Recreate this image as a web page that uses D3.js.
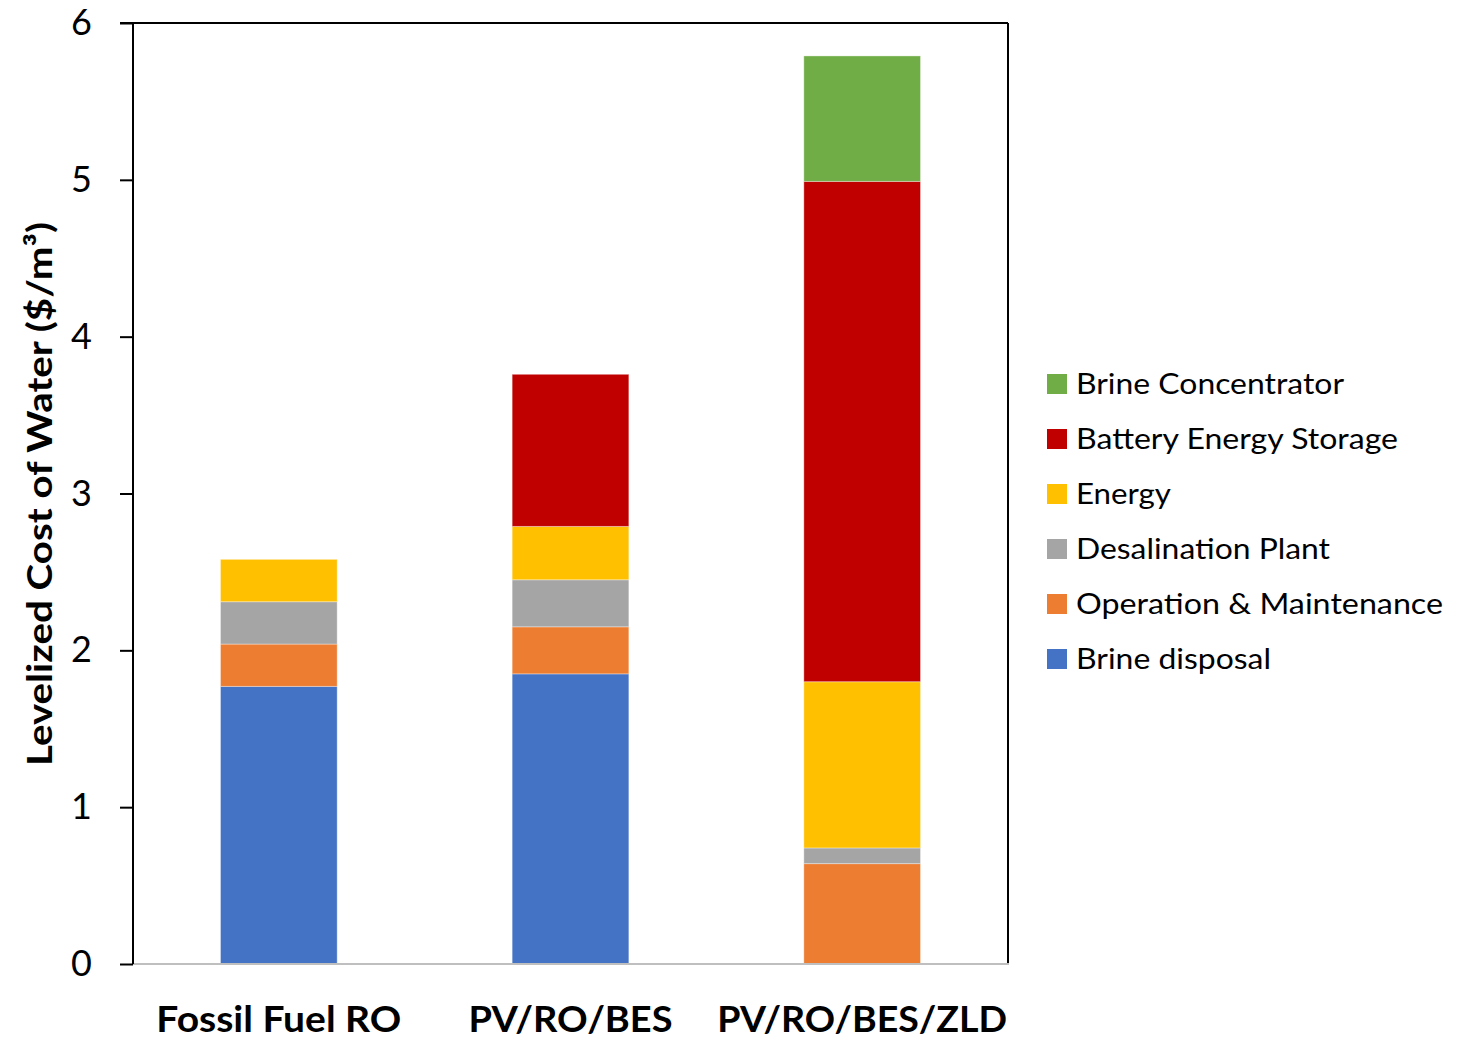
<!DOCTYPE html>
<html>
<head>
<meta charset="utf-8">
<script src="https://cdn.jsdelivr.net/npm/d3@7"></script>
<style>
  html, body { margin: 0; padding: 0; background: #fff; }
  svg { display: block; }
  text { font-family: Lato, "Noto Sans", "Liberation Sans", sans-serif; fill: #000; }
</style>
</head>
<body>
<svg id="chart" width="1457" height="1040"></svg>
<script>
// Levelized cost of water by system configuration, split into cost components
const categories = ["Fossil Fuel RO", "PV/RO/BES", "PV/RO/BES/ZLD"];
const seriesNames = ["Brine disposal", "Operation & Maintenance", "Desalination Plant", "Energy", "Battery Energy Storage", "Brine Concentrator"];
const seriesColors = ["#4472C4", "#ED7D31", "#A5A5A5", "#FFC000", "#C00000", "#70AD47"];
const brineDisposal = [1.77, 1.85, 0.00];
const operationMaintenance = [0.27, 0.30, 0.64];
const desalinationPlant = [0.27, 0.30, 0.10];
const energy = [0.27, 0.34, 1.06];
const batteryStorage = [0.00, 0.97, 3.19];
const brineConcentrator = [0.00, 0.00, 0.80];
const yTicks = [0, 1, 2, 3, 4, 5, 6];

const seriesValues = [brineDisposal, operationMaintenance, desalinationPlant, energy, batteryStorage, brineConcentrator];
const rows = categories.map((c, i) => {
  const r = { category: c };
  seriesNames.forEach((s, k) => { r[s] = seriesValues[k][i]; });
  return r;
});

const svg = d3.select("#chart");
const margin = { left: 133, top: 23, right: 449, bottom: 76 };
const W = 1457, H = 1040;
const x0 = margin.left, x1 = W - margin.right;   // 133 .. 1008
const y0 = H - margin.bottom, y1 = margin.top;   // 964 .. 23

const x = d3.scaleBand().domain(categories).range([x0, x1]).paddingInner(0.6).paddingOuter(0.3);
const y = d3.scaleLinear().domain([0, 6]).range([y0, y1]);
const color = d3.scaleOrdinal().domain(seriesNames).range(seriesColors);

const stacked = d3.stack().keys(seriesNames)(rows);

// stacked bars
const g = svg.append("g");
g.selectAll("g.series")
  .data(stacked)
  .join("g")
  .attr("class", "series")
  .attr("fill", d => color(d.key))
  .selectAll("rect")
  .data(d => d.filter(p => p[1] - p[0] > 0))
  .join("rect")
  .attr("x", d => x(d.data.category))
  .attr("width", x.bandwidth())
  .attr("y", d => y(d[1]))
  .attr("height", d => y(d[0]) - y(d[1]))
  .attr("stroke", "#ffffff")
  .attr("stroke-opacity", 0.35)
  .attr("stroke-width", 1);

// plot frame: top and right borders
svg.append("line").attr("x1", x0).attr("x2", x1).attr("y1", y1).attr("y2", y1)
  .attr("stroke", "#000").attr("stroke-width", 2);
svg.append("line").attr("x1", x1).attr("x2", x1).attr("y1", y1).attr("y2", y0)
  .attr("stroke", "#000").attr("stroke-width", 2);

// bottom category axis (gray line, no ticks)
svg.append("line").attr("x1", x0).attr("x2", x1 + 1).attr("y1", y0).attr("y2", y0)
  .attr("stroke", "#BFBFBF").attr("stroke-width", 2);

// y axis
const yAxis = svg.append("g")
  .attr("transform", `translate(${x0},0)`)
  .call(d3.axisLeft(y).tickValues(yTicks).tickFormat(d3.format("d")).tickSize(13).tickPadding(28));
yAxis.select(".domain").attr("stroke", "#000").attr("stroke-width", 2).attr("d", `M-13,${y1}H0V${y0}`);
yAxis.selectAll(".tick line").attr("stroke", "#000").attr("stroke-width", 2);
yAxis.selectAll(".tick text")
  .attr("font-size", 36)
  .attr("font-family", "Lato, 'Noto Sans', sans-serif")
  .attr("fill", "#000");

// category labels
svg.append("g").selectAll("text")
  .data(categories)
  .join("text")
  .attr("x", d => x(d) + x.bandwidth() / 2)
  .attr("y", 1032)
  .attr("text-anchor", "middle")
  .attr("font-size", 36)
  .attr("font-weight", "bold")
  .attr("textLength", (d, i) => [245, 204, 290][i])
  .attr("lengthAdjust", "spacingAndGlyphs")
  .text(d => d);

// y axis title
svg.append("text")
  .attr("transform", `translate(52,494) rotate(-90)`)
  .attr("text-anchor", "middle")
  .attr("font-size", 34)
  .attr("font-weight", "bold")
  .attr("textLength", 544)
  .attr("lengthAdjust", "spacingAndGlyphs")
  .text("Levelized Cost of Water ($/m³)");

// legend, top entry is the last series
const legendItems = seriesNames.slice().reverse();
const legendWidths = { "Brine Concentrator": 268, "Battery Energy Storage": 322, "Energy": 95, "Desalination Plant": 254, "Operation & Maintenance": 367, "Brine disposal": 195 };
const legend = svg.append("g").attr("transform", "translate(1047,374)");
const li = legend.selectAll("g").data(legendItems).join("g")
  .attr("transform", (d, i) => `translate(0,${i * 55})`);
li.append("rect").attr("width", 20).attr("height", 20).attr("fill", d => color(d));
li.append("text")
  .attr("x", 29).attr("y", 20)
  .attr("font-size", 29)
  .attr("textLength", d => legendWidths[d])
  .attr("lengthAdjust", "spacingAndGlyphs")
  .text(d => d);
</script>
</body>
</html>
